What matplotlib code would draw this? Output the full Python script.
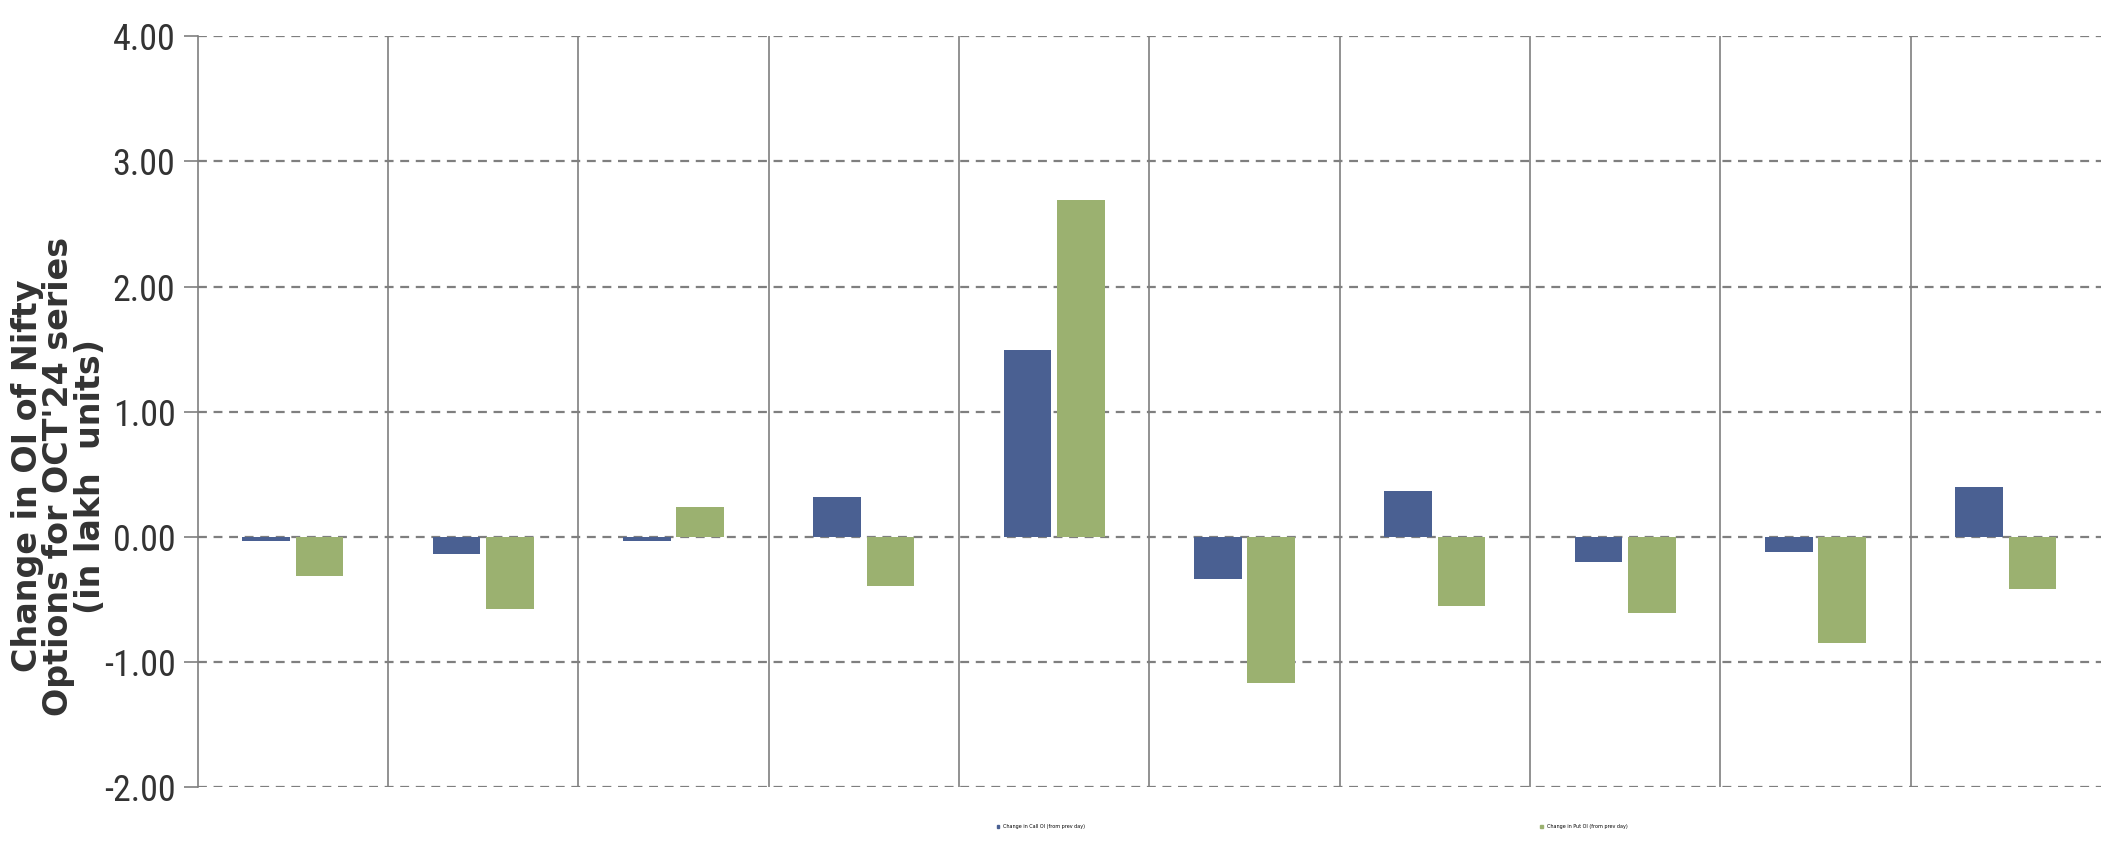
import matplotlib
matplotlib.use("Agg")
import matplotlib.pyplot as plt
import numpy as np
from matplotlib.patches import Patch

# strike-wise change in open interest, lakh units
strikes = ["24500", "24600", "24700", "24800", "24900", "25000", "25100", "25200", "25300", "25400"]
call_oi = [-0.03, -0.14, -0.03, 0.32, 1.49, -0.34, 0.37, -0.20, -0.12, 0.40]
put_oi = [-0.31, -0.58, 0.24, -0.39, 2.69, -1.17, -0.55, -0.61, -0.85, -0.42]
series_names = ["Change in Call OI (from prev day)", "Change in Put OI (from prev day)"]
yticks = [-2, -1, 0, 1, 2, 3, 4]

blue = "#4a6092"
green = "#9bb170"
grid_c = "#7f7f7f"
narrow = ["Liberation Sans Narrow", "DejaVu Sans Condensed", "Roboto Condensed", "Liberation Sans"]

fig = plt.figure(figsize=(21.03, 8.41), dpi=100)
ax = fig.add_axes([0.094, 0.064, 0.905, 0.893])

x = np.arange(len(strikes))
w = 0.25
ax.bar(x - 0.14, call_oi, w, color=blue, zorder=3)
ax.bar(x + 0.14, put_oi, w, color=green, zorder=3)

ax.set_xlim(-0.5, len(strikes) - 0.5)
ax.set_ylim(-2, 4)
ax.set_yticks(yticks)
ax.set_yticklabels([f"{v:.2f}" for v in yticks], family=narrow, stretch="condensed",
                   fontsize=26, color="#333333")
ax.tick_params(axis="y", length=10, color=grid_c, width=1.2, direction="out", pad=6)
ax.set_xticks([])

# category separators and dashed value grid
for b in np.arange(0.5, len(strikes) - 0.5, 1):
    ax.axvline(b, color=grid_c, lw=1.2, zorder=1)
for v in yticks:
    ax.axhline(v, color=grid_c, lw=1.6, ls=(0, (4, 3)), zorder=2)

for s in ["top", "right", "bottom"]:
    ax.spines[s].set_visible(False)
ax.spines["left"].set_color(grid_c)
ax.spines["left"].set_linewidth(1.2)

fig.text(0.028, 0.434, "Change in OI of Nifty\nOptions for OCT'24 series\n(in lakh  units)",
         rotation=90, ha="center", va="center", fontsize=24, fontweight="bold",
         family=["DejaVu Sans"], color="#333333", linespacing=0.95)

handles = [Patch(color=blue), Patch(color=green)]
fig.legend([handles[0]], [series_names[0]], loc="center", bbox_to_anchor=(0.495, 0.017),
           fontsize=3.5, frameon=False, handlelength=0.6, handleheight=0.6)
fig.legend([handles[1]], [series_names[1]], loc="center", bbox_to_anchor=(0.753, 0.017),
           fontsize=3.5, frameon=False, handlelength=0.6, handleheight=0.6)

fig.savefig("out.png", dpi=100, facecolor="white")
